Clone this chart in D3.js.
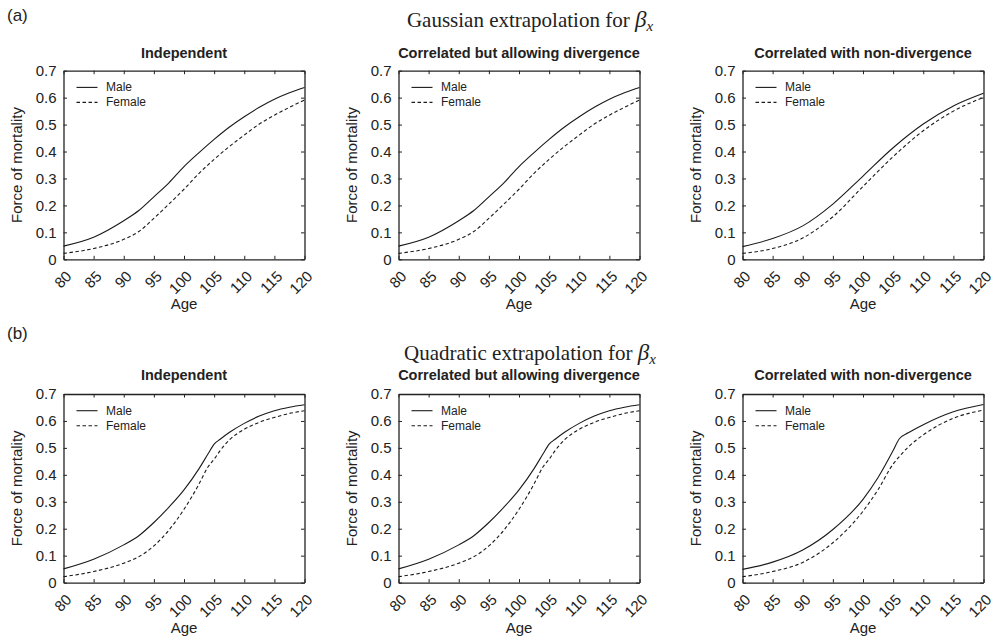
<!DOCTYPE html>
<html lang="en">
<head>
    <meta charset="UTF-8">
    <title>Force of mortality</title>
    <script src="https://cdn.jsdelivr.net/npm/d3@7"></script>
    <style>
        body { margin: 0; background: #fff; }
        .axis text { font-family: "Liberation Sans", Arial, sans-serif; font-size: 15px; fill: #222; }
        .axis path, .axis line { stroke: #222; }
    </style>
</head>
<body>
<script>
    // ages and readings for each panel
    let ageGauss   = [80, 85, 90, 92.5, 95, 97.5, 100, 102.5, 105, 107.5, 110, 112.5, 115, 117.5, 120];
    let ageGaussND = [80, 85, 90, 95, 100, 105, 110, 115, 120];
    let ageQuad    = [80, 85, 90, 92.5, 95, 97.5, 100, 102.5, 104, 105, 106, 107.5, 110, 112.5, 115, 117.5, 120];
    let ageQuadND  = [80, 85, 90, 95, 100, 102.5, 105, 106, 107.5, 110, 115, 120];

    let a1Male   = [0.049, 0.082, 0.143, 0.181, 0.232, 0.284, 0.344, 0.396, 0.445, 0.490, 0.529, 0.564, 0.594, 0.618, 0.638];
    let a1Female = [0.022, 0.040, 0.074, 0.103, 0.152, 0.205, 0.260, 0.319, 0.371, 0.418, 0.461, 0.502, 0.535, 0.564, 0.591];
    let a2Male   = [0.049, 0.082, 0.143, 0.181, 0.232, 0.284, 0.344, 0.396, 0.445, 0.490, 0.529, 0.564, 0.594, 0.618, 0.638];
    let a2Female = [0.022, 0.040, 0.074, 0.103, 0.152, 0.205, 0.260, 0.319, 0.371, 0.418, 0.461, 0.502, 0.535, 0.564, 0.591];
    let a3Male   = [0.047, 0.077, 0.124, 0.205, 0.309, 0.414, 0.502, 0.569, 0.616];
    let a3Female = [0.022, 0.040, 0.079, 0.158, 0.270, 0.381, 0.477, 0.550, 0.601];

    let b1Male   = [0.051, 0.087, 0.140, 0.174, 0.223, 0.280, 0.344, 0.423, 0.478, 0.514, 0.532, 0.557, 0.591, 0.618, 0.638, 0.651, 0.660];
    let b1Female = [0.022, 0.041, 0.072, 0.096, 0.136, 0.195, 0.272, 0.366, 0.430, 0.458, 0.490, 0.529, 0.569, 0.595, 0.613, 0.628, 0.638];
    let b2Male   = [0.051, 0.087, 0.140, 0.174, 0.223, 0.280, 0.344, 0.423, 0.478, 0.514, 0.532, 0.557, 0.591, 0.618, 0.638, 0.651, 0.660];
    let b2Female = [0.022, 0.041, 0.072, 0.096, 0.136, 0.195, 0.272, 0.366, 0.430, 0.458, 0.490, 0.529, 0.569, 0.595, 0.613, 0.628, 0.638];
    let b3Male   = [0.049, 0.076, 0.121, 0.197, 0.309, 0.390, 0.490, 0.533, 0.556, 0.586, 0.634, 0.661];
    let b3Female = [0.022, 0.041, 0.075, 0.148, 0.265, 0.345, 0.440, 0.467, 0.503, 0.548, 0.610, 0.640];

    let panelTitles = ["Independent", "Correlated but allowing divergence", "Correlated with non-divergence"];
    let rowLabels = ["(a)", "(b)"];
    let rowTitles = ["Gaussian extrapolation for ", "Quadratic extrapolation for "];
    let seriesNames = ["Male", "Female"];
    let xTicks = [80, 85, 90, 95, 100, 105, 110, 115, 120];
    let yTicks = [0, 0.1, 0.2, 0.3, 0.4, 0.5, 0.6, 0.7];

    let panels = [
        {row: 0, col: 0, ages: ageGauss,   male: a1Male, female: a1Female},
        {row: 0, col: 1, ages: ageGauss,   male: a2Male, female: a2Female},
        {row: 0, col: 2, ages: ageGaussND, male: a3Male, female: a3Female},
        {row: 1, col: 0, ages: ageQuad,    male: b1Male, female: b1Female},
        {row: 1, col: 1, ages: ageQuad,    male: b2Male, female: b2Female},
        {row: 1, col: 2, ages: ageQuadND,  male: b3Male, female: b3Female}
    ];

    let width = 998, height = 638;
    let colX = [63.5, 398.5, 742.5];
    let rowY = [70.7, 394];
    let pw = 241, ph = 188.6;
    let sans = '"Liberation Sans", Arial, sans-serif';
    let serif = '"Liberation Serif", "Times New Roman", serif';

    let svg = d3.select("body")
        .append("svg")
        .attr("width", width)
        .attr("height", height);

    let xScale = d3.scaleLinear().domain([80, 120]).range([0, pw]);
    let yScale = d3.scaleLinear().domain([0, 0.7]).range([ph, 0]);

    let line = d3.line()
        .x(function (d) { return xScale(d.x); })
        .y(function (d) { return yScale(d.y); })
        .curve(d3.curveMonotoneX);

    // row headers
    rowLabels.forEach(function (lab, r) {
        svg.append("text")
            .text(lab)
            .attr("x", 7)
            .attr("y", r === 0 ? 21 : 339)
            .attr("font-family", sans)
            .attr("font-size", "17px")
            .attr("fill", "#222");

        let t = svg.append("text")
            .attr("x", 530)
            .attr("y", r === 0 ? 27 : 360)
            .attr("text-anchor", "middle")
            .attr("font-family", serif)
            .attr("font-size", "21px")
            .attr("fill", "#222");
        t.append("tspan").text(rowTitles[r]);
        t.append("tspan").text("β").attr("font-style", "italic").attr("font-size", "23px");
        t.append("tspan").text("x").attr("font-style", "italic").attr("font-size", "15px").attr("dy", 4);
    });

    panels.forEach(function (p) {
        let g = svg.append("g")
            .attr("transform", "translate(" + colX[p.col] + "," + rowY[p.row] + ")");

        // inward ticks on all four sides
        g.append("g").attr("class", "axis")
            .attr("transform", "translate(0," + ph + ")")
            .call(d3.axisBottom(xScale).tickValues(xTicks).tickSize(-3.5).tickSizeOuter(0))
            .selectAll("text")
            .attr("text-anchor", "end")
            .attr("dy", null)
            .attr("y", 0)
            .attr("transform", "translate(8.5,18) rotate(-45)");

        g.append("g").attr("class", "axis")
            .call(d3.axisTop(xScale).tickValues(xTicks).tickSize(-3.5).tickSizeOuter(0).tickFormat(""));

        g.append("g").attr("class", "axis")
            .call(d3.axisLeft(yScale).tickValues(yTicks).tickSize(-3.5).tickSizeOuter(0).tickPadding(7)
                .tickFormat(function (d) { return d === 0 ? "0" : d3.format(".1f")(d); }));

        g.append("g").attr("class", "axis")
            .attr("transform", "translate(" + pw + ",0)")
            .call(d3.axisRight(yScale).tickValues(yTicks).tickSize(-3.5).tickSizeOuter(0).tickFormat(""));

        g.selectAll(".axis path.domain").attr("stroke-width", 1.3);

        let male = p.ages.map(function (a, i) { return {x: a, y: p.male[i]}; });
        let female = p.ages.map(function (a, i) { return {x: a, y: p.female[i]}; });

        g.append("path")
            .attr("d", line(male))
            .attr("fill", "none")
            .attr("stroke", "#1a1a1a")
            .attr("stroke-width", 1.1);

        g.append("path")
            .attr("d", line(female))
            .attr("fill", "none")
            .attr("stroke", "#1a1a1a")
            .attr("stroke-width", 1.1)
            .attr("stroke-dasharray", "3.5,2.5");

        // legend
        seriesNames.forEach(function (name, i) {
            let ly = 16.7 + i * 15;
            g.append("line")
                .attr("x1", 13).attr("x2", 34)
                .attr("y1", ly).attr("y2", ly)
                .attr("stroke", "#1a1a1a")
                .attr("stroke-width", 1.1)
                .attr("stroke-dasharray", i === 1 ? "3.5,2.5" : null);
            g.append("text")
                .text(name)
                .attr("x", 42.5)
                .attr("y", ly + 4)
                .attr("font-family", sans)
                .attr("font-size", "12px")
                .attr("fill", "#222");
        });

        g.append("text")
            .text(panelTitles[p.col])
            .attr("x", pw / 2)
            .attr("y", p.row === 0 ? -12.4 : -14)
            .attr("text-anchor", "middle")
            .attr("font-family", sans)
            .attr("font-size", "14.5px")
            .attr("font-weight", "bold")
            .attr("fill", "#222");

        g.append("text")
            .text("Force of mortality")
            .attr("transform", "translate(-42," + (ph / 2) + ") rotate(-90)")
            .attr("text-anchor", "middle")
            .attr("font-family", sans)
            .attr("font-size", "15px")
            .attr("fill", "#222");

        g.append("text")
            .text("Age")
            .attr("x", pw / 2)
            .attr("y", ph + 50)
            .attr("text-anchor", "middle")
            .attr("font-family", sans)
            .attr("font-size", "15px")
            .attr("fill", "#222");
    });
</script>
</body>
</html>
